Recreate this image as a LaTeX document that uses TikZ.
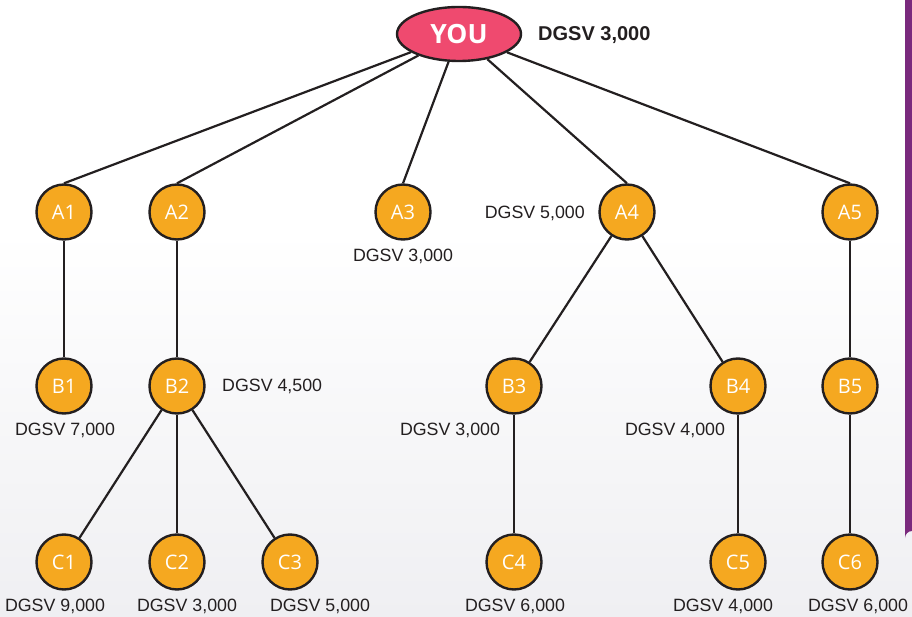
\documentclass[tikz,border=0pt]{standalone}
\usepackage{fontspec}
\setmainfont{Liberation Sans}
\newfontfamily\labfont{Open Sans}
\usetikzlibrary{shapes.geometric}
\definecolor{orangefill}{HTML}{F5A820}
\definecolor{pinkfill}{HTML}{EF4A6F}
\definecolor{purplebar}{HTML}{7A2A7D}
\definecolor{outline}{HTML}{231F20}
\definecolor{bggray}{HTML}{EFEFF2}
\definecolor{txt}{HTML}{231F20}
\tikzset{
  member/.style={circle, draw=outline, line width=2.4pt, fill=orangefill, minimum size=55pt, inner sep=0pt, text=white, font=\labfont\fontsize{20}{20}\selectfont},
  youbox/.style={ellipse, draw=outline, line width=2.4pt, fill=pinkfill, minimum width=124pt, minimum height=54pt, inner sep=0pt, text=white, font=\labfont\bfseries\fontsize{26.5}{26.5}\selectfont},
  link/.style={draw=outline, line width=2.2pt},
  val/.style={text=txt, font=\fontsize{17.8}{17.8}\selectfont, inner sep=0pt},
  bigval/.style={text=txt, font=\bfseries\fontsize{20}{20}\selectfont, inner sep=0pt}
}
\begin{document}
\begin{tikzpicture}[x=1pt,y=-1pt]
\useasboundingbox (0,0) rectangle (912,617);
\fill[white] (0,0) rectangle (912,617);
\shade[top color=white, bottom color=bggray] (0,230) rectangle (912,617);
\fill[purplebar] (905,0) -- (905,538) arc[start angle=180, end angle=270, radius=7] -- (912,545) -- (912,0) -- cycle;

\node[youbox] (you) at (459,34) {YOU};
\node[bigval, anchor=west] (vyou) at (538,35) {DGSV 3,000};

\node[member] (a1) at (64,212) {A1};
\node[member] (a2) at (177,212) {A2};
\node[member] (a3) at (403,212) {A3};
\node[member] (a4) at (627,212) {A4};
\node[member] (a5) at (850,212) {A5};

\node[member] (b1) at (64,386) {B1};
\node[member] (b2) at (177,386) {B2};
\node[member] (b3) at (514,386) {B3};
\node[member] (b4) at (738,386) {B4};
\node[member] (b5) at (850,386) {B5};

\node[member] (c1) at (64,562) {C1};
\node[member] (c2) at (177,562) {C2};
\node[member] (c3) at (290,562) {C3};
\node[member] (c4) at (514,562) {C4};
\node[member] (c5) at (738,562) {C5};
\node[member] (c6) at (850,562) {C6};

\path[link] (you) -- (a1.north);
\path[link] (you) -- (a2.north);
\path[link] (you) -- (a3.north);
\path[link] (you) -- (a4.north);
\path[link] (you) -- (a5.north);
\path[link] (a1) -- (b1);
\path[link] (a2) -- (b2);
\path[link] (a4) -- (b3);
\path[link] (a4) -- (b4);
\path[link] (a5) -- (b5);
\path[link] (b2) -- (c1);
\path[link] (b2) -- (c2);
\path[link] (b2) -- (c3);
\path[link] (b3) -- (c4);
\path[link] (b4) -- (c5);
\path[link] (b5) -- (c6);

\node[val] (v3) at (403,256) {DGSV 3,000};
\node[val, anchor=east] (v4) at (585,213) {DGSV 5,000};
\node[val] (vb1) at (65,430) {DGSV 7,000};
\node[val, anchor=west] (vb2) at (222,386) {DGSV 4,500};
\node[val] (vb3) at (450,430) {DGSV 3,000};
\node[val] (vb4) at (675,430) {DGSV 4,000};
\node[val] (vc1) at (55,606) {DGSV 9,000};
\node[val] (vc2) at (187,606) {DGSV 3,000};
\node[val] (vc3) at (320,606) {DGSV 5,000};
\node[val] (vc4) at (515,606) {DGSV 6,000};
\node[val] (vc5) at (723,606) {DGSV 4,000};
\node[val] (vc6) at (858,606) {DGSV 6,000};
\end{tikzpicture}
\end{document}
